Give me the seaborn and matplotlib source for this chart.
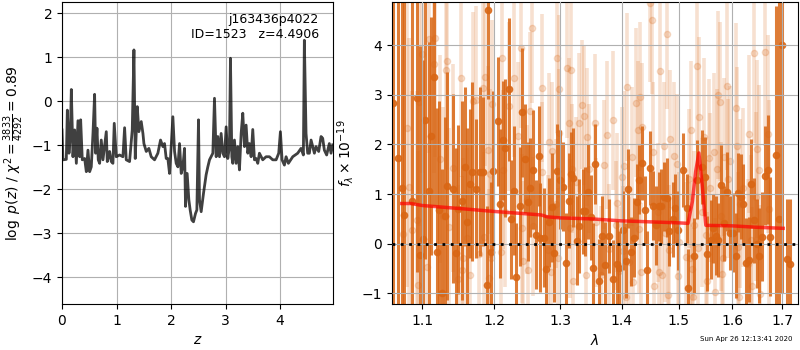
import matplotlib
matplotlib.use("Agg")
import matplotlib.pyplot as plt
from matplotlib.ticker import FixedLocator, FormatStrFormatter, NullLocator
import numpy as np
import pandas as pd
import seaborn as sns

# --- p(z) panel ---
z_grid = [0.000, 0.018, 0.079, 0.098, 0.128, 0.153, 0.171, 0.201, 0.232, 0.263,
          0.293, 0.324, 0.342, 0.372, 0.415, 0.446, 0.476, 0.507, 0.537, 0.568,
          0.598, 0.617, 0.641, 0.665, 0.690, 0.720, 0.751, 0.812, 0.830, 0.873,
          0.904, 0.934, 0.958, 0.995, 1.056, 1.117, 1.148, 1.178, 1.239, 1.288,
          1.319, 1.343, 1.380, 1.410, 1.453, 1.484, 1.502, 1.545, 1.593, 1.636,
          1.697, 1.758, 1.807, 1.850, 1.880, 1.911, 1.941, 1.972, 2.002, 2.033,
          2.064, 2.094, 2.125, 2.155, 2.186, 2.216, 2.247, 2.265, 2.295, 2.326,
          2.350, 2.381, 2.411, 2.448, 2.473, 2.503, 2.521, 2.552, 2.595, 2.643,
          2.674, 2.705, 2.766, 2.796, 2.827, 2.857, 2.888, 2.918, 2.949, 2.979,
          3.010, 3.040, 3.071, 3.089, 3.114, 3.132, 3.162, 3.193, 3.223, 3.254,
          3.285, 3.315, 3.346, 3.376, 3.407, 3.437, 3.468, 3.498, 3.529, 3.559,
          3.590, 3.620, 3.681, 3.742, 3.803, 3.864, 3.926, 3.974, 4.005, 4.035,
          4.078, 4.109, 4.151, 4.231, 4.322, 4.383, 4.426, 4.444, 4.475, 4.505,
          4.536, 4.567, 4.628, 4.658, 4.707, 4.750, 4.780, 4.811, 4.853, 4.902,
          4.933, 4.963]
log_pz = [-0.65, -1.33, -1.32, -0.20, -1.18, -0.77, 0.27, -1.26, -0.65, -1.41,
          -0.44, -1.26, -0.42, -1.33, -1.30, -1.60, -1.11, -1.60, -1.49, -0.73,
          0.16, -1.18, -0.61, -1.33, -1.41, -0.88, -1.33, -0.69, -1.37, -1.14,
          -1.37, -1.41, -0.50, -1.26, -1.22, -1.26, -0.60, -1.33, -1.37, -0.65,
          1.17, -1.30, -0.12, -0.69, -0.46, -0.73, -0.96, -1.14, -1.07, -1.26,
          -1.33, -1.18, -0.88, -1.03, -0.96, -1.30, -1.30, -1.64, -1.03, -0.35,
          -1.14, -1.41, -1.49, -0.96, -1.64, -1.49, -1.07, -2.39, -1.64, -2.24,
          -2.47, -2.70, -2.74, -2.55, -2.47, -0.42, -2.24, -2.51, -2.09, -1.67,
          -1.49, -1.33, -1.18, 0.07, -1.26, -0.80, -1.26, -0.73, -1.18, -1.26,
          -0.58, -1.30, -1.03, 0.98, -1.26, -1.41, -0.88, -1.41, -1.03, -1.56,
          -0.73, -0.27, -1.03, -0.54, -1.18, -0.96, -1.26, -0.64, -1.33, -1.30,
          -1.41, -1.18, -1.33, -1.26, -1.26, -1.33, -1.33, -1.18, -0.69, -1.33,
          -1.45, -1.26, -1.41, -1.26, -1.18, -1.07, -1.22, 1.39, -0.73, -1.18,
          -1.18, -0.88, -1.18, -1.03, -1.14, -0.80, -0.84, -1.11, -1.22, -0.96,
          -1.18, -0.99]

# --- spectrum panel, first beam (dark) ---
wave_a = [1.0620, 1.0686, 1.0737, 1.0763, 1.0868, 1.0934, 1.0973, 1.1013, 1.1040, 1.1093,
          1.1120, 1.1160, 1.1201, 1.1228, 1.1270, 1.1311, 1.1338, 1.1420, 1.1461, 1.1489,
          1.1545, 1.1586, 1.1615, 1.1657, 1.1686, 1.1741, 1.1798, 1.1841, 1.1898, 1.1913,
          1.1957, 1.1986, 1.2048, 1.2077, 1.2127, 1.2161, 1.2209, 1.2245, 1.2284, 1.2324,
          1.2373, 1.2409, 1.2454, 1.2493, 1.2534, 1.2569, 1.2614, 1.2660, 1.2686, 1.2737,
          1.2779, 1.2825, 1.2867, 1.2907, 1.2954, 1.2997, 1.3039, 1.3087, 1.3128, 1.3175,
          1.3207, 1.3262, 1.3303, 1.3358, 1.3396, 1.3433, 1.3488, 1.3521, 1.3559, 1.3613,
          1.3669, 1.3724, 1.3795, 1.3862, 1.3918, 1.3962, 1.4020, 1.4076, 1.4115, 1.4166,
          1.4218, 1.4259, 1.4304, 1.4351, 1.4403, 1.4443, 1.4490, 1.4548, 1.4596, 1.4643,
          1.4690, 1.4738, 1.4786, 1.4833, 1.4894, 1.4941, 1.4995, 1.5086, 1.5148, 1.5177,
          1.5282, 1.5343, 1.5425, 1.5486, 1.5529, 1.5593, 1.5642, 1.5693, 1.5737, 1.5789,
          1.5852, 1.5909, 1.5961, 1.6013, 1.6072, 1.6123, 1.6169, 1.6220, 1.6273, 1.6326,
          1.6378, 1.6437, 1.6485, 1.6537, 1.6597, 1.6651, 1.6718, 1.6752, 1.6874, 1.6941,
          1.6991, 1.7093, 1.7162]
flux_a = [2.84, 1.73, 1.13, 0.57, 0.87, 2.93, -0.22, 0.10, 2.50, 1.07,
          2.17, 3.36, -0.16, 0.67, -1.00, 0.55, 1.17, 1.11, -0.18, 0.69,
          0.87, 1.55, 0.43, 1.21, 1.45, 1.11, 1.45, 1.45, -0.84, 4.72,
          -0.16, 1.47, 2.47, 0.81, 2.09, 1.93, 3.11, 0.49, 1.07, -0.68,
          0.75, 2.65, 1.71, 0.85, 1.13, 1.49, 0.18, 1.77, 0.12, 0.12,
          -0.52, 0.43, 0.73, -0.18, 1.47, 1.29, 1.15, -0.38, 0.87, 1.41,
          1.33, 0.06, 0.35, 0.65, 0.65, 1.05, 0.53, -0.48, 1.61, -0.76,
          0.16, -0.42, 0.16, -0.72, -0.40, -0.50, 0.27, -0.34, 1.11, -0.16,
          0.12, 0.85, 1.29, 1.63, 0.67, -0.54, 1.53, 0.77, 0.37, 0.75,
          0.75, 0.95, 0.93, 0.25, 0.49, 0.71, 0.27, 1.49, 0.71, -0.90,
          -0.24, 1.29, 1.55, 1.35, -0.20, 0.08, 0.31, 0.16, 0.08, 1.19,
          0.41, 1.05, 0.22, 0.22, -0.24, 1.03, 0.95, 0.81, -0.38, -0.32,
          1.21, 0.47, 0.00, -0.24, 0.14, 1.37, 1.49, 0.14, 1.79, 0.49,
          4.00, -0.30, -0.40]
err_a = [5.0, 5.0, 4.5, 4.8, 4.0, 3.5, 4.2, 3.6, 2.8, 3.0,
         2.4, 2.6, 2.9, 2.2, 2.5, 2.0, 2.3, 1.9, 2.1, 1.7,
         2.0, 1.6, 1.9, 1.5, 1.8, 1.4, 1.7, 1.5, 1.6, 1.8,
         1.4, 1.6, 1.3, 1.5, 1.2, 1.4, 1.45, 1.2, 1.3, 1.1,
         1.2, 1.3, 1.1, 1.2, 1.0, 1.2, 1.1, 1.0, 1.1, 1.0,
         1.1, 0.9, 1.1, 1.0, 0.95, 1.0, 0.9, 1.0, 0.95, 0.85,
         1.0, 0.9, 0.95, 0.85, 0.9, 0.95, 0.85, 0.9, 0.8, 0.85,
         0.8, 0.85, 0.75, 0.8, 0.85, 0.75, 0.8, 0.75, 0.8, 0.7,
         0.8, 0.75, 0.7, 0.75, 0.7, 0.8, 0.75, 0.7, 0.8, 0.7,
         0.75, 0.7, 0.8, 0.7, 0.75, 0.7, 0.8, 0.75, 0.7, 0.8,
         0.75, 0.8, 0.75, 0.8, 0.75, 0.8, 0.7, 0.8, 0.75, 0.8,
         0.75, 0.8, 0.75, 0.8, 0.85, 0.8, 0.85, 0.8, 0.9, 0.85,
         0.9, 0.85, 0.9, 0.95, 0.9, 1.0, 1.1, 1.2, 3.0, 5.0,
         5.0, 1.2, 1.3]

# --- spectrum panel, second beam (light) ---
wave_b = [1.0745, 1.0800, 1.0826, 1.0866, 1.0933, 1.0946, 1.0960, 1.1000, 1.1069, 1.1083,
          1.1153, 1.1167, 1.1236, 1.1278, 1.1319, 1.1333, 1.1361, 1.1417, 1.1486, 1.1528,
          1.1542, 1.1556, 1.1611, 1.1653, 1.1694, 1.1736, 1.1778, 1.1833, 1.1847, 1.1861,
          1.1903, 1.1917, 1.1944, 1.1958, 1.1972, 1.2103, 1.2118, 1.2132, 1.2162, 1.2221,
          1.2294, 1.2353, 1.2397, 1.2412, 1.2427, 1.2485, 1.2500, 1.2530, 1.2559, 1.2574,
          1.2706, 1.2721, 1.2809, 1.2824, 1.2853, 1.2868, 1.2926, 1.2941, 1.2956, 1.2971,
          1.2985, 1.3098, 1.3131, 1.3148, 1.3164, 1.3180, 1.3197, 1.3246, 1.3295, 1.3344,
          1.3377, 1.3410, 1.3426, 1.3459, 1.3557, 1.3574, 1.3656, 1.3705, 1.3754, 1.3787,
          1.3852, 1.3902, 1.3918, 1.3951, 1.4000, 1.4018, 1.4035, 1.4070, 1.4088, 1.4123,
          1.4175, 1.4193, 1.4246, 1.4281, 1.4298, 1.4316, 1.4333, 1.4351, 1.4491, 1.4526,
          1.4544, 1.4561, 1.4632, 1.4649, 1.4667, 1.4702, 1.4737, 1.4754, 1.4789, 1.4807,
          1.4825, 1.4842, 1.4912, 1.4965, 1.4982, 1.5000, 1.5130, 1.5185, 1.5204, 1.5222,
          1.5241, 1.5259, 1.5278, 1.5333, 1.5352, 1.5370, 1.5426, 1.5463, 1.5500, 1.5518,
          1.5555, 1.5574, 1.5648, 1.5667, 1.5704, 1.5722, 1.5759, 1.5796, 1.5815, 1.5833,
          1.5852, 1.5907, 1.5926, 1.5963, 1.6080, 1.6100, 1.6120, 1.6140, 1.6160, 1.6220,
          1.6320, 1.6340, 1.6380, 1.6400, 1.6420, 1.6460, 1.6480, 1.6520, 1.6540, 1.6640,
          1.6720, 1.6740]
flux_b = [0.20, 2.33, 1.15, 0.27, 0.47, -0.84, 2.86, 3.82, -0.46, 4.12,
          3.62, 4.14, 1.71, 0.55, 3.50, 3.68, 0.33, 1.53, -0.72, 3.34,
          -0.54, -0.28, 0.12, -0.64, 2.88, 2.90, -0.20, 3.14, 0.14, 3.36,
          1.89, -0.70, 1.41, -0.28, 2.82, -0.16, 3.74, 1.49, 0.63, 2.77,
          3.34, 2.17, 3.94, 0.31, -0.34, 0.89, -0.54, 2.67, 4.34, 0.35,
          3.14, 1.45, -0.12, 2.05, -0.58, 1.87, 0.81, 3.74, -0.28, 2.23,
          3.12, 3.54, 2.44, 0.31, 3.50, 1.51, -0.76, 1.25, 2.44, 2.80,
          2.58, -0.64, 2.15, 1.51, 2.43, 0.43, -0.64, 1.59, 2.19, -0.10,
          2.49, 0.37, 0.83, -0.56, 1.35, -0.14, 1.57, -1.08, 3.16, -0.36,
          1.75, -0.78, 2.84, 2.29, 0.29, 2.96, -0.58, 2.35, 4.86, 4.52,
          1.85, -0.86, 0.63, -0.58, 3.48, -0.64, 1.97, 0.22, 4.22, -1.04,
          -0.12, 2.11, 1.77, 1.61, -0.66, 0.04, -0.26, 1.31, -0.28, 2.29,
          -0.52, -1.08, 0.37, 3.58, -0.08, 2.56, 0.63, 2.15, 0.18, -0.76,
          1.73, 1.13, 1.85, -0.98, 1.51, 3.00, 2.86, 0.55, -0.62, -0.28,
          1.75, 3.18, 1.31, 1.67, 2.74, 1.97, -0.06, -1.08, 0.81, 1.13,
          -0.40, 2.21, 0.08, -0.86, 3.84, 0.95, 1.91, 1.49, -1.02, 3.86,
          2.21, 0.69]
err_b = [3.5, 3.2, 3.0, 2.8, 2.6, 2.7, 2.5, 2.4, 2.5, 2.3,
         2.2, 2.4, 2.1, 2.2, 2.0, 2.2, 2.0, 2.1, 1.9, 2.0,
         1.9, 2.0, 1.8, 1.9, 1.8, 1.9, 1.7, 1.8, 1.7, 1.8,
         1.7, 1.8, 1.7, 1.6, 1.7, 1.6, 1.7, 1.6, 1.5, 1.7,
         1.6, 1.5, 1.6, 1.5, 1.6, 1.5, 1.4, 1.6, 1.5, 1.4,
         1.5, 1.4, 1.5, 1.4, 1.5, 1.4, 1.3, 1.5, 1.4, 1.3,
         1.5, 1.4, 1.3, 1.4, 1.5, 1.3, 1.4, 1.3, 1.4, 1.3,
         1.4, 1.3, 1.4, 1.3, 1.4, 1.3, 1.4, 1.3, 1.5, 1.3,
         1.4, 1.3, 1.4, 1.3, 1.4, 1.3, 1.5, 1.4, 1.5, 1.3,
         1.4, 1.3, 1.5, 1.4, 1.3, 1.5, 1.4, 1.3, 1.6, 1.5,
         1.4, 1.3, 1.4, 1.3, 1.5, 1.4, 1.3, 1.4, 1.5, 1.4,
         1.3, 1.4, 1.5, 1.4, 1.3, 1.4, 1.5, 1.4, 1.5, 1.4,
         1.5, 1.4, 1.5, 1.6, 1.5, 1.6, 1.5, 1.6, 1.5, 1.4,
         1.6, 1.5, 1.6, 1.5, 1.6, 1.7, 1.6, 1.5, 1.6, 1.5,
         1.6, 1.7, 1.6, 1.5, 1.7, 1.6, 1.5, 1.6, 1.7, 1.6,
         1.7, 1.6, 1.7, 1.6, 1.8, 1.7, 1.8, 1.7, 1.8, 1.9,
         2.0, 2.2]

# --- best-fit model ---
model_wave = [1.073, 1.085, 1.100, 1.150, 1.200, 1.250, 1.270, 1.280, 1.300, 1.350,
              1.400, 1.450, 1.500, 1.517, 1.525, 1.531, 1.537, 1.543, 1.550, 1.600,
              1.650, 1.702]
model_flux = [0.81, 0.81, 0.77, 0.71, 0.65, 0.60, 0.58, 0.54, 0.52, 0.50,
              0.46, 0.44, 0.42, 0.41, 0.85, 1.45, 1.83, 1.20, 0.37, 0.36,
              0.33, 0.31]

label_root = "j163436p4022"
label_id = "ID=1523   z=4.4906"
stamp = "Sun Apr 26 12:13:41 2020"

orange = (0.85, 0.40, 0.08)

fig = plt.figure(figsize=(8, 3.5), dpi=100)
ax1 = fig.add_axes([0.0775, 0.1314, 0.3388, 0.8629])
ax2 = fig.add_axes([0.49, 0.1314, 0.5075, 0.8629])

# p(z)
pz = pd.DataFrame({"z": z_grid, "logp": log_pz})
sns.lineplot(data=pz, x="z", y="logp", ax=ax1, color="k", alpha=0.75,
             linewidth=2, estimator=None, sort=False)
ax1.set_xlim(0, 4.97)
ax1.set_ylim(-4.61, 2.26)
ax1.grid(True)
ax1.set_xlabel("$z$")
ax1.set_ylabel(r"$\log\ p(z)$ / $\chi^2=\frac{3833}{4292}=0.89$")
ax1.text(0.948, 0.965, label_root + "\n" + label_id, ha="right", va="top",
         transform=ax1.transAxes, fontsize=9)

# spectrum
ax2.set_xscale("log")
ax2.errorbar(wave_b, flux_b, yerr=err_b, fmt="o", color=orange, alpha=0.2,
             elinewidth=2.6, markersize=4.5, zorder=1)
ax2.errorbar(wave_a, flux_a, yerr=err_a, fmt="o", color=orange, alpha=0.85,
             elinewidth=2.2, markersize=4.5, zorder=2)
model = pd.DataFrame({"wave": model_wave, "flux": model_flux})
sns.lineplot(data=model, x="wave", y="flux", ax=ax2, color="r", alpha=0.7,
             linewidth=2.5, estimator=None, sort=False, zorder=4)
ax2.axhline(0, color="k", linestyle=(0, (1, 2)), linewidth=2, zorder=5)

ax2.set_xlim(1.0604, 1.7328)
ax2.set_ylim(-1.216, 4.873)
ax2.xaxis.set_major_locator(FixedLocator([1.1, 1.2, 1.3, 1.4, 1.5, 1.6, 1.7]))
ax2.xaxis.set_major_formatter(FormatStrFormatter("%.1f"))
ax2.xaxis.set_minor_locator(NullLocator())
ax2.set_axisbelow(False)
ax2.grid(True, zorder=3)
ax2.set_xlabel(r"$\lambda$")
ax2.set_ylabel(r"$f_\lambda\times10^{-19}$")

fig.text(0.99, 0.022, stamp, ha="right", va="bottom", fontsize=5)

fig.savefig("out.png", dpi=100)
